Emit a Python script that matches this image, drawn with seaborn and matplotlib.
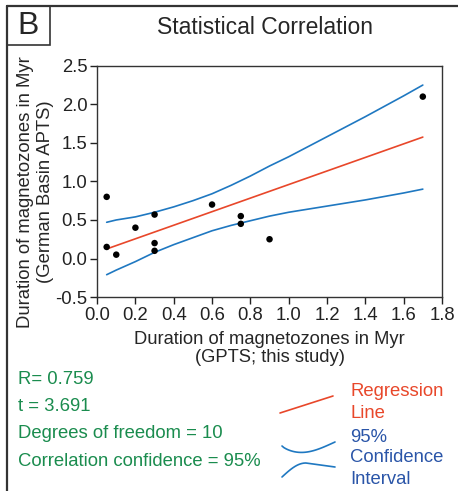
import matplotlib
matplotlib.use("Agg")
import matplotlib.pyplot as plt
import numpy as np
import pandas as pd
import seaborn as sns
from matplotlib.lines import Line2D
from matplotlib.patches import Rectangle

# ---------- data ----------
gpts_dur = [0.05, 0.05, 0.1, 0.2, 0.3, 0.3, 0.3, 0.6, 0.75, 0.75, 0.9, 1.7]
apts_dur = [0.8, 0.15, 0.05, 0.4, 0.57, 0.2, 0.1, 0.7, 0.55, 0.45, 0.25, 2.1]

reg_x = [0.05, 1.7]
reg_y = [0.124, 1.575]

ci_x = [0.05, 0.1, 0.2, 0.3, 0.4, 0.5, 0.6, 0.7, 0.8, 0.9, 1.0, 1.2, 1.4, 1.6, 1.7]
ci_upper = [0.47, 0.50, 0.54, 0.60, 0.67, 0.75, 0.84, 0.95, 1.07, 1.20, 1.32, 1.58, 1.84, 2.11, 2.25]
ci_lower = [-0.21, -0.15, -0.04, 0.08, 0.18, 0.27, 0.36, 0.43, 0.49, 0.55, 0.60, 0.68, 0.76, 0.85, 0.90]

stats_lines = ["R= 0.759", "t = 3.691", "Degrees of freedom = 10",
               "Correlation confidence = 95%"]

RED = "#e8472a"
BLUE = "#1f78c1"
BLUE_TXT = "#2a55a8"
GREEN = "#1a8c4e"

sns.set_style("ticks")
plt.rcParams["font.family"] = ["Liberation Sans", "DejaVu Sans"]

fig = plt.figure(figsize=(4.58, 4.91), dpi=100)
ax = fig.add_axes([0.212, 0.395, 0.753, 0.471])

pts = pd.DataFrame({"x": gpts_dur, "y": apts_dur})
ci = pd.DataFrame({"x": ci_x, "upper": ci_upper, "lower": ci_lower})

sns.lineplot(x=ci["x"], y=ci["upper"], color=BLUE, lw=1.2, ax=ax)
sns.lineplot(x=ci["x"], y=ci["lower"], color=BLUE, lw=1.2, ax=ax)
sns.lineplot(x=reg_x, y=reg_y, color=RED, lw=1.2, ax=ax)
sns.scatterplot(data=pts, x="x", y="y", color="black", s=22, edgecolor="none",
                ax=ax, zorder=5)

ax.set_xlim(0, 1.8)
ax.set_ylim(-0.5, 2.5)
ax.set_xticks(np.arange(0, 1.81, 0.2))
ax.set_yticks(np.arange(-0.5, 2.51, 0.5))
ax.xaxis.set_major_formatter(matplotlib.ticker.FormatStrFormatter("%.1f"))
ax.yaxis.set_major_formatter(matplotlib.ticker.FormatStrFormatter("%.1f"))
ax.tick_params(labelsize=13.3, length=5, width=1, pad=2, colors="#222222",
               direction="out")
for s in ax.spines.values():
    s.set_color("#333333")
    s.set_linewidth(1)
ax.set_xlabel("Duration of magnetozones in Myr\n(GPTS; this study)", fontsize=13.2,
              linespacing=1.1, labelpad=5)
ax.set_ylabel("Duration of magnetozones in Myr\n(German Basin APTS)", fontsize=13.3,
              linespacing=1.25)
ax.yaxis.set_label_coords(-0.125, 0.455)

# panel frame and label
fig.add_artist(Line2D([7 / 458, 7 / 458], [0, 1 - 6 / 491], transform=fig.transFigure,
                      color="#333333", lw=1.6))
fig.add_artist(Line2D([7 / 458, 1], [1 - 6 / 491, 1 - 6 / 491], transform=fig.transFigure,
                      color="#333333", lw=1.6))
fig.add_artist(Rectangle((7 / 458, 1 - 45 / 491), 43 / 458, 39 / 491,
                         transform=fig.transFigure, fill=False, ec="#333333", lw=1.2))
fig.text(28.5 / 458, 1 - 26 / 491, "B", fontsize=23, ha="center", va="center")
fig.text(265 / 458, 1 - 27 / 491, "Statistical Correlation", fontsize=16.5,
         ha="center", va="center")

# statistics text
for i, txt in enumerate(stats_lines):
    fig.text(18 / 458, 1 - (379 + 27.5 * i) / 491, txt, color=GREEN, fontsize=13.3,
             ha="left", va="center")

# legend glyphs
t = np.linspace(0, 1, 30)
gx = (282 + 53 * t) / 458
fig.add_artist(Line2D(np.array([280, 333]) / 458, 1 - np.array([413, 396]) / 491,
                      transform=fig.transFigure, color=RED, lw=1.2))
fig.add_artist(Line2D(gx, 1 - (446 + 8 * np.sin(np.pi * t ** 0.8) - 4 * t) / 491,
                      transform=fig.transFigure, color=BLUE, lw=1.2))
fig.add_artist(Line2D(gx, 1 - (477 - 14 * np.sin(np.pi / 2 * np.minimum(t / 0.45, 1))
                               + 4 * np.clip((t - 0.45) / 0.55, 0, 1)) / 491,
                      transform=fig.transFigure, color=BLUE, lw=1.2))
legend_txt = [("Regression", RED, 391), ("Line", RED, 413), ("95%", BLUE_TXT, 437),
              ("Confidence", BLUE_TXT, 458), ("Interval", BLUE_TXT, 480)]
for txt, col, yy in legend_txt:
    fig.text(350 / 458, 1 - yy / 491, txt, color=col, fontsize=13.3, va="center")

fig.savefig("out.png", dpi=100)
